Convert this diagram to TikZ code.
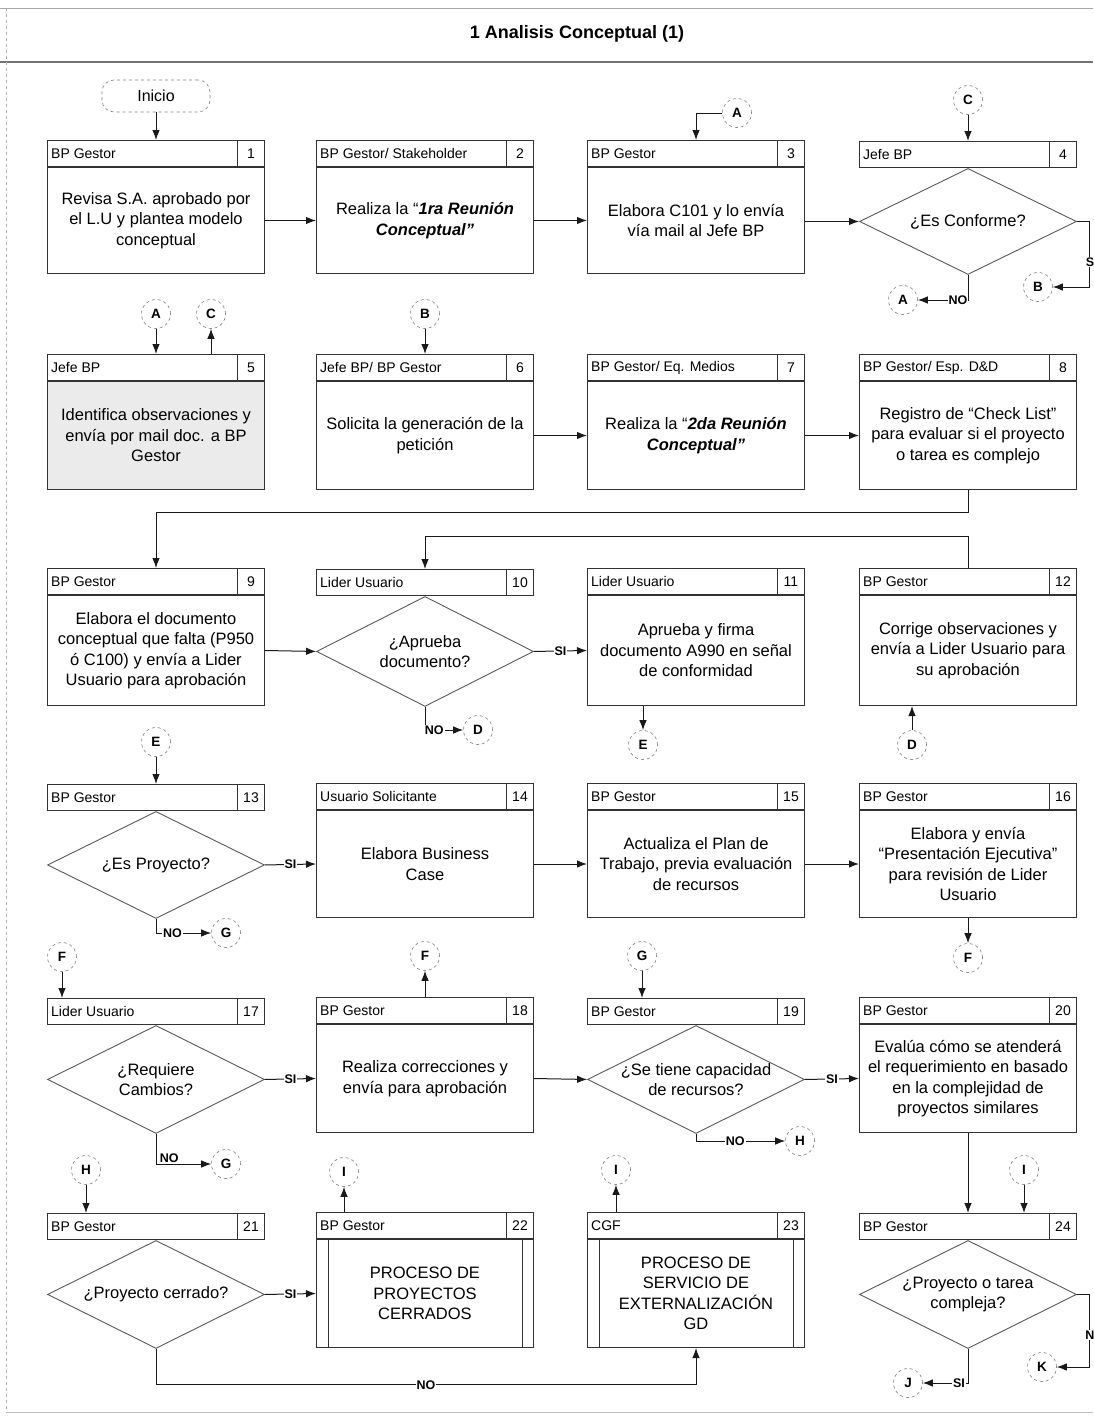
\documentclass[tikz,border=0pt]{standalone}
\usepackage{fontspec}
\setmainfont{Liberation Sans}
\usetikzlibrary{shapes.geometric,arrows.meta}
\tikzset{
  bx/.style={draw=black!80, line width=1pt, fill=white},
  extra/.style={},
  bodyst/.style={bx, minimum width=217pt, inner sep=2pt, align=center, font=\fontsize{16.5}{20.5}\selectfont},
  hdrst/.style={bx, minimum width=217pt, minimum height=26pt, inner sep=0pt},
  numst/.style={bx, minimum width=27pt, minimum height=26pt, inner sep=0pt, font=\fontsize{14}{16}\selectfont},
  rolest/.style={inner sep=0pt, xshift=4pt, font=\fontsize{14}{16}\selectfont},
  decst/.style={diamond, draw=black!65, line width=0.9pt, minimum width=217pt, inner sep=0pt},
  dtext/.style={align=center, font=\fontsize{16.5}{20.5}\selectfont, inner sep=0pt},
  conn/.style={circle, draw=black!50, dashed, line width=0.6pt, minimum size=29pt, inner sep=0pt, font=\bfseries\fontsize{13.5}{15}\selectfont, fill=white},
  arr/.style={draw=black!90, line width=1pt, -{Latex[length=10pt,width=7.5pt]}},
  lbl/.style={fill=white, inner sep=1pt, font=\bfseries\fontsize{12.5}{15}\selectfont},
}
% name, cx, top, body height, role, number, text
\newcommand\procbox[7]{%
  \node[bodyst, extra, minimum height=#4pt, anchor=north] (b#1) at (#2,#3+26) {#7};
  \node[hdrst, anchor=south] (h#1) at (b#1.north) {};
  \node[numst, anchor=east] (n#1) at (h#1.east) {#6};
  \node[rolest, anchor=west] (r#1) at (h#1.west) {#5};
}
% name, cx, top, body height, role, number
\newcommand\decbox[6]{%
  \node[hdrst, anchor=north] (h#1) at (#2,#3) {};
  \node[numst, anchor=east] (n#1) at (h#1.east) {#6};
  \node[rolest, anchor=west] (r#1) at (h#1.west) {#5};
  \node[decst, minimum height=#4pt, anchor=north] (d#1) at (h#1.south) {};
}
\begin{document}
\begin{tikzpicture}[x=1pt,y=-1pt]
\useasboundingbox (0,0) rectangle (1093,1419);
% frame
\draw[black!35, line width=0.8pt] (0,8) -- (1093,8);
\draw[black!55, line width=1.5pt] (0,62) -- (1093,62);
\draw[black!30, dashed, line width=0.6pt] (6,8) -- (6,1412);
\draw[black!25, line width=0.6pt] (6,1412) -- (1093,1412);
\node[font=\bfseries\fontsize{18}{20}\selectfont] (title) at (577,34) {1 Analisis Conceptual (1)};

\node[draw=black!50, dashed, line width=0.6pt, rounded corners=12pt, minimum width=108pt, minimum height=32pt, font=\fontsize{16}{18}\selectfont] (ini) at (156,96) {Inicio};

% row 1
\procbox{1}{156}{141}{106}{BP Gestor}{1}{Revisa S.A. aprobado por\\el L.U y plantea modelo\\conceptual}
\procbox{2}{425}{141}{106}{BP Gestor/ Stakeholder}{2}{Realiza la “\textbf{\textit{1ra Reunión}}\\\textbf{\textit{Conceptual”}}}
\procbox{3}{696}{141}{106}{BP Gestor}{3}{Elabora C101 y lo envía\\vía mail al Jefe BP}
\decbox{4}{968}{141}{106}{Jefe BP}{4}
\node[dtext] (t4) at (d4) {¿Es Conforme?};

% row 2
\tikzset{extra/.style={fill=black!8}}
\procbox{5}{156}{355}{108}{Jefe BP}{5}{Identifica observaciones y\\envía por mail doc. a BP\\Gestor}
\tikzset{extra/.style={}}
\procbox{6}{425}{355}{108}{Jefe BP/ BP Gestor}{6}{Solicita la generación de la\\petición}
\procbox{7}{696}{355}{108}{BP Gestor/ Eq. Medios}{7}{Realiza la “\textbf{\textit{2da Reunión}}\\\textbf{\textit{Conceptual”}}}
\procbox{8}{968}{355}{108}{BP Gestor/ Esp. D\&D}{8}{Registro de “Check List”\\para evaluar si el proyecto\\o tarea es complejo}

% row 3
\procbox{9}{156}{569}{110}{BP Gestor}{9}{Elabora el documento\\conceptual que falta (P950\\ó C100) y envía a Lider\\Usuario para aprobación}
\decbox{10}{425}{569}{110}{Lider Usuario}{10}
\node[dtext] (t10) at (d10) {¿Aprueba\\documento?};
\procbox{11}{696}{569}{110}{Lider Usuario}{11}{Aprueba y firma\\documento A990 en señal\\de conformidad}
\procbox{12}{968}{569}{110}{BP Gestor}{12}{Corrige observaciones y\\envía a Lider Usuario para\\su aprobación}

% row 4
\decbox{13}{156}{784}{107}{BP Gestor}{13}
\node[dtext] (t13) at (d13) {¿Es Proyecto?};
\procbox{14}{425}{784}{107}{Usuario Solicitante}{14}{Elabora Business\\Case}
\procbox{15}{696}{784}{107}{BP Gestor}{15}{Actualiza el Plan de\\Trabajo, previa evaluación\\de recursos}
\procbox{16}{968}{784}{107}{BP Gestor}{16}{Elabora y envía\\“Presentación Ejecutiva”\\para revisión de Lider\\Usuario}

% row 5
\decbox{17}{156}{998}{108}{Lider Usuario}{17}
\node[dtext] (t17) at (d17) {¿Requiere\\Cambios?};
\procbox{18}{425}{998}{108}{BP Gestor}{18}{Realiza correcciones y\\envía para aprobación}
\decbox{19}{696}{998}{108}{BP Gestor}{19}
\node[dtext] (t19) at (d19) {¿Se tiene capacidad\\de recursos?};
\procbox{20}{968}{998}{108}{BP Gestor}{20}{Evalúa cómo se atenderá\\el requerimiento en basado\\en la complejidad de\\proyectos similares}

% row 6
\decbox{21}{156}{1213}{108}{BP Gestor}{21}
\node[dtext] (t21) at (d21) {¿Proyecto cerrado?};
\procbox{22}{425}{1213}{108}{BP Gestor}{22}{PROCESO DE\\PROYECTOS\\CERRADOS}
\procbox{23}{696}{1213}{108}{CGF}{23}{PROCESO DE\\SERVICIO DE\\EXTERNALIZACIÓN\\GD}
\decbox{24}{968}{1213}{108}{BP Gestor}{24}
\node[dtext] (t24) at (d24) {¿Proyecto o tarea\\compleja?};
% predefined-process side bars
\foreach \k in {22,23}{
  \draw[bx] ([xshift=12pt]b\k.north west) -- ([xshift=12pt]b\k.south west);
  \draw[bx] ([xshift=-12pt]b\k.north east) -- ([xshift=-12pt]b\k.south east);
}

% connectors (circles)
\node[conn] (cA1) at (737,113) {A};
\node[conn] (cC1) at (968,100) {C};
\node[conn] (cA2) at (903,300) {A};
\node[conn] (cB1) at (1038,287) {B};
\node[conn] (cA3) at (156,314) {A};
\node[conn] (cC2) at (211,314) {C};
\node[conn] (cB2) at (425,314) {B};
\node[conn] (cD1) at (478,730) {D};
\node[conn] (cE1) at (643,745) {E};
\node[conn] (cD2) at (912,745) {D};
\node[conn] (cE2) at (156,742) {E};
\node[conn] (cG1) at (226,933) {G};
\node[conn] (cF1) at (968,958) {F};
\node[conn] (cF2) at (62,957) {F};
\node[conn] (cF3) at (425,956) {F};
\node[conn] (cG2) at (642,956) {G};
\node[conn] (cG3) at (226,1164) {G};
\node[conn] (cH1) at (800,1141) {H};
\node[conn] (cI1) at (1024,1170) {I};
\node[conn] (cH2) at (86,1170) {H};
\node[conn] (cI2) at (344,1172) {I};
\node[conn] (cI3) at (616,1170) {I};
\node[conn] (cJ) at (908,1383) {J};
\node[conn] (cK) at (1042,1367) {K};

% arrows row 1
\draw[arr] (ini) -- (h1.north);
\draw[arr] (b1.east) -- (b2.west);
\draw[arr] (b2.east) -- (b3.west);
\draw[arr] (b3.east |- d4.west) -- (d4.west);
\draw[arr] (cA1.west) -| (h3.north);
\draw[arr] (cC1) -- (h4.north);
\draw[arr] (d4.south) |- node[lbl, pos=0.6]{NO} (cA2);
\draw[arr] (d4.east) -- ++(13,0) |- (cB1);
\node[lbl] (sS) at (1090,262) {S};

% row 2
\draw[arr] (cA3) -- (cA3 |- h5.north);
\draw[arr] (h5.north -| cC2) -- (cC2);
\draw[arr] (cB2) -- (h6.north);
\draw[arr] (b6.east) -- (b7.west);
\draw[arr] (b7.east) -- (b8.west);
\draw[arr] (b8.south) -- ++(0,22) -| (h9.north);
\draw[arr] (h12.north) -- ++(0,-32) -| (h10.north);

% row 3
\draw[arr] (b9.east) -- (d10.west);
\draw[arr] (d10.east) -- node[lbl]{SI} (b11.west);
\draw[arr] (d10.south) |- node[lbl, pos=0.62]{NO} (cD1);
\draw[arr] (b11.south -| cE1) -- (cE1);
\draw[arr] (cD2) -- (cD2 |- b12.south);

% row 4
\draw[arr] (cE2) -- (h13.north);
\draw[arr] (d13.east) -- node[lbl]{SI} (b14.west);
\draw[arr] (b14.east) -- (b15.west);
\draw[arr] (b15.east) -- (b16.west);
\draw[arr] (d13.south) |- node[lbl, pos=0.65]{NO} (cG1);
\draw[arr] (b16.south) -- (cF1);

% row 5
\draw[arr] (cF2) -- (cF2 |- h17.north);
\draw[arr] (h18.north) -- (cF3);
\draw[arr] (cG2) -- (cG2 |- h19.north);
\draw[arr] (d17.east) -- node[lbl]{SI} (b18.west);
\draw[arr] (b18.east) -- (d19.west);
\draw[arr] (d19.east) -- node[lbl]{SI} (b20.west);
\draw[arr] (d17.south) |- node[lbl, above, pos=0.62]{NO} (cG3);
\draw[arr] (d19.south) |- node[lbl, pos=0.72]{NO} (cH1);
\draw[arr] (b20.south) -- (h24.north);
\draw[arr] (cI1) -- (cI1 |- h24.north);

% row 6
\draw[arr] (cH2) -- (cH2 |- h21.north);
\draw[arr] (h22.north -| cI2) -- (cI2);
\draw[arr] (h23.north -| cI3) -- (cI3);
\draw[arr] (d21.east) -- node[lbl]{SI} (b22.west);
\draw[arr] (d21.south) -- ++(0,36) -| node[lbl, pos=0.25]{NO} (b23.south);
\draw[arr] (d24.south) |- node[lbl, pos=0.6]{SI} (cJ);
\draw[arr] (d24.east) -- ++(13,0) |- (cK);
\node[lbl] (sN) at (1090,1335) {N};
\end{tikzpicture}
\end{document}
